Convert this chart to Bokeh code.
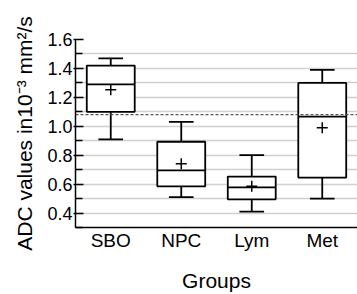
from bokeh.plotting import figure
from bokeh.models import ColumnDataSource, Span, FixedTicker, NumeralTickFormatter
from bokeh.transform import dodge
from bokeh.embed import file_html
from bokeh.resources import INLINE

groups = ["SBO", "NPC", "Lym", "Met"]
lower = [0.91, 0.51, 0.41, 0.50]
q1 = [1.10, 0.585, 0.495, 0.645]
median = [1.29, 0.695, 0.577, 1.067]
q3 = [1.42, 0.893, 0.652, 1.30]
upper = [1.47, 1.03, 0.80, 1.39]
mean = [1.253, 0.74, 0.585, 0.99]
reference_value = 1.08
y_ticks = [0.4, 0.6, 0.8, 1.0, 1.2, 1.4, 1.6]
y_minor = [0.3, 0.5, 0.7, 0.9, 1.1, 1.3, 1.5]

src = ColumnDataSource(dict(groups=groups, lower=lower, q1=q1, median=median,
                            q3=q3, upper=upper, mean=mean))

p = figure(x_range=groups, y_range=(0.3, 1.6), width=357, height=294,
           output_backend="svg", toolbar_location=None,
           min_border_left=75, min_border_right=0, min_border_top=39,
           min_border_bottom=64)
p.x_range.range_padding = 0
p.outline_line_color = None
p.background_fill_color = "white"

FONT = "Liberation Sans"
# grid
p.xgrid.grid_line_color = None
p.ygrid.grid_line_color = "#d0d0d0"
p.ygrid.grid_line_width = 1.5
p.ygrid.minor_grid_line_color = "#d0d0d0"
p.ygrid.minor_grid_line_width = 1.5

# y axis
p.yaxis.ticker = FixedTicker(ticks=y_ticks, minor_ticks=y_minor)
p.yaxis.formatter = NumeralTickFormatter(format="0.0")
p.yaxis.axis_label = "ADC values in10\u207b\u00b3 mm\u00b2/s"
p.yaxis.axis_label_text_font = FONT
p.yaxis.axis_label_text_font_style = "normal"
p.yaxis.axis_label_text_font_size = "21px"
p.yaxis.axis_label_text_color = "black"
p.yaxis.axis_label_standoff = 8
p.yaxis.major_label_text_font = FONT
p.yaxis.major_label_text_font_size = "18px"
p.yaxis.major_label_text_color = "black"
p.yaxis.major_label_standoff = 1
p.yaxis.major_tick_in = 8
p.yaxis.major_tick_out = 2
p.yaxis.minor_tick_in = 7
p.yaxis.minor_tick_out = 0
p.yaxis.axis_line_width = 1.5
p.yaxis.major_tick_line_width = 1.5
p.yaxis.minor_tick_line_width = 1.5
p.yaxis.axis_line_color = "black"

# x axis
p.xaxis.axis_label = "Groups"
p.xaxis.axis_label_text_font = FONT
p.xaxis.axis_label_text_font_style = "normal"
p.xaxis.axis_label_text_font_size = "21px"
p.xaxis.axis_label_text_color = "black"
p.xaxis.axis_label_standoff = 15
p.xaxis.major_label_text_font = FONT
p.xaxis.major_label_text_font_size = "19px"
p.xaxis.major_label_text_color = "black"
p.xaxis.major_label_standoff = 2
p.xaxis.major_tick_in = 0
p.xaxis.major_tick_out = 0
p.xaxis.axis_line_width = 1.5
p.xaxis.axis_line_color = "black"

# reference dashed line
p.add_layout(Span(location=reference_value, dimension="width",
                  line_color="#555555", line_width=1.2, line_dash="3 2"))

# whiskers
p.segment(x0="groups", y0="q3", x1="groups", y1="upper", source=src,
          line_color="black", line_width=1.8)
p.segment(x0="groups", y0="lower", x1="groups", y1="q1", source=src,
          line_color="black", line_width=1.8)
# caps
for yk in ("upper", "lower"):
    p.segment(x0=dodge("groups", -0.175, range=p.x_range), y0=yk,
              x1=dodge("groups", 0.175, range=p.x_range), y1=yk, source=src,
              line_color="black", line_width=1.8)
# boxes
p.vbar(x="groups", top="q3", bottom="q1", width=0.68, source=src,
       fill_color="white", line_color="black", line_width=1.8)
# median
p.segment(x0=dodge("groups", -0.34, range=p.x_range), y0="median",
          x1=dodge("groups", 0.34, range=p.x_range), y1="median", source=src,
          line_color="black", line_width=1.8)
# mean
p.scatter(x="groups", y="mean", source=src, marker="cross", size=11,
          line_color="black", line_width=1.5)

open("out.html", "w").write(file_html(p, INLINE))
